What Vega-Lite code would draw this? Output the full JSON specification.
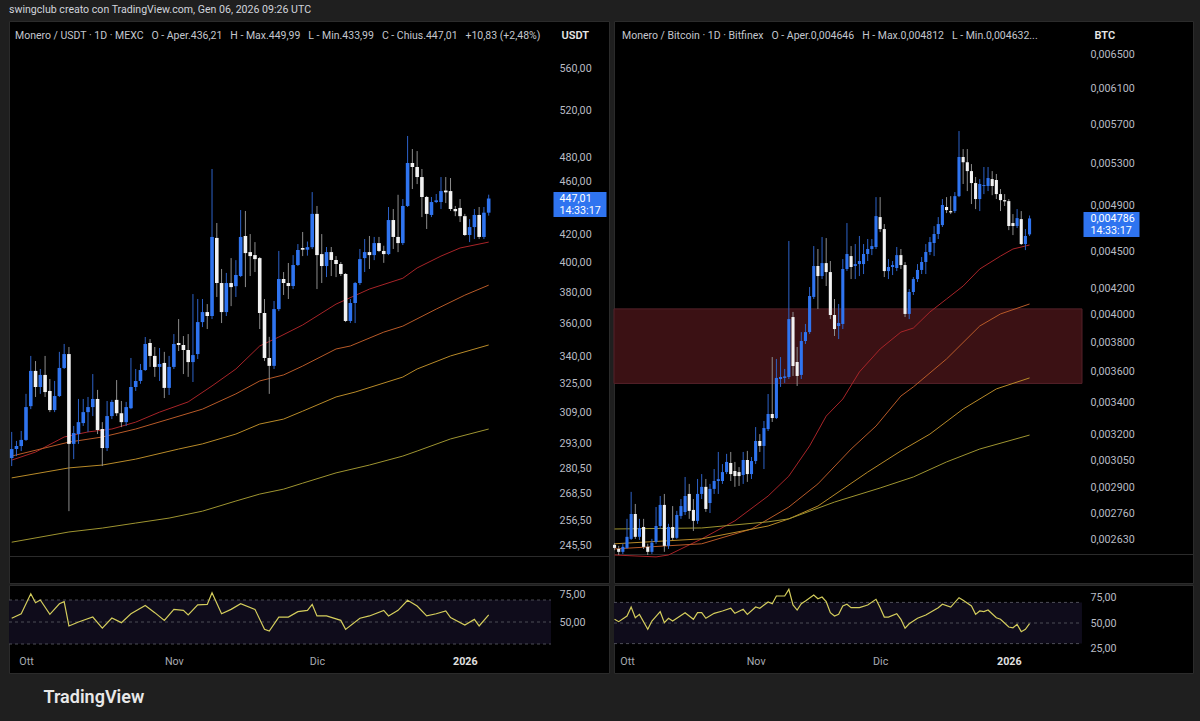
{
"$schema": "https://vega.github.io/schema/vega-lite/v6.json",
"background": "#1f1f1f",
"padding": {"left": 8, "right": 8, "top": 4, "bottom": 16},
"title": {"text": "swingclub creato con TradingView.com, Gen 06, 2026 09:26 UTC", "anchor": "start", "frame": "group", "color": "#d1d4dc", "fontSize": 10.6, "fontWeight": "normal", "offset": 5},
"config": {"font": "Roboto", "view": {"stroke": "#2b2b2b", "fill": "#000000"}},
"datasets": {
"lc": [
{"d":"2025-09-28","o":285.5,"h":298.7,"l":281.6,"c":290.0},
{"d":"2025-09-29","o":290.0,"h":294.1,"l":286.5,"c":291.5},
{"d":"2025-09-30","o":291.5,"h":299.2,"l":289.0,"c":294.6},
{"d":"2025-10-01","o":294.6,"h":319.0,"l":294.1,"c":311.8},
{"d":"2025-10-02","o":312.3,"h":340.6,"l":310.7,"c":331.9},
{"d":"2025-10-03","o":331.9,"h":337.6,"l":317.3,"c":322.8},
{"d":"2025-10-04","o":322.8,"h":333.0,"l":319.0,"c":329.6},
{"d":"2025-10-05","o":329.6,"h":340.6,"l":317.3,"c":320.0},
{"d":"2025-10-06","o":320.6,"h":327.3,"l":309.1,"c":310.2},
{"d":"2025-10-07","o":310.2,"h":326.2,"l":309.1,"c":317.8},
{"d":"2025-10-08","o":317.8,"h":343.0,"l":317.3,"c":333.6},
{"d":"2025-10-09","o":333.6,"h":347.7,"l":333.0,"c":341.7},
{"d":"2025-10-10","o":341.7,"h":345.9,"l":260.5,"c":292.6},
{"d":"2025-10-11","o":292.6,"h":301.8,"l":285.0,"c":298.1},
{"d":"2025-10-12","o":297.6,"h":316.2,"l":292.6,"c":303.8},
{"d":"2025-10-13","o":303.3,"h":316.2,"l":301.8,"c":309.1},
{"d":"2025-10-14","o":309.1,"h":317.3,"l":298.7,"c":311.8},
{"d":"2025-10-15","o":311.8,"h":330.1,"l":307.0,"c":316.2},
{"d":"2025-10-16","o":316.2,"h":321.2,"l":297.6,"c":299.7},
{"d":"2025-10-17","o":300.2,"h":303.8,"l":281.6,"c":290.5},
{"d":"2025-10-18","o":290.5,"h":315.1,"l":289.0,"c":307.0},
{"d":"2025-10-19","o":307.0,"h":315.7,"l":305.4,"c":314.6},
{"d":"2025-10-20","o":315.7,"h":326.7,"l":307.0,"c":308.5},
{"d":"2025-10-21","o":308.5,"h":315.1,"l":301.2,"c":303.8},
{"d":"2025-10-22","o":303.8,"h":314.6,"l":301.8,"c":311.8},
{"d":"2025-10-23","o":311.2,"h":339.4,"l":310.7,"c":322.8},
{"d":"2025-10-24","o":322.8,"h":333.0,"l":320.6,"c":326.2},
{"d":"2025-10-25","o":326.2,"h":335.9,"l":324.6,"c":332.4},
{"d":"2025-10-26","o":332.4,"h":351.9,"l":331.9,"c":347.7},
{"d":"2025-10-27","o":348.3,"h":350.7,"l":334.2,"c":340.6},
{"d":"2025-10-28","o":340.6,"h":345.9,"l":328.5,"c":334.2},
{"d":"2025-10-29","o":334.2,"h":345.3,"l":326.2,"c":335.9},
{"d":"2025-10-30","o":336.5,"h":343.0,"l":316.7,"c":322.3},
{"d":"2025-10-31","o":322.3,"h":340.6,"l":318.4,"c":334.2},
{"d":"2025-11-01","o":334.2,"h":353.7,"l":333.0,"c":347.7},
{"d":"2025-11-02","o":348.3,"h":363.0,"l":343.5,"c":347.1},
{"d":"2025-11-03","o":347.1,"h":352.5,"l":330.1,"c":344.1},
{"d":"2025-11-04","o":344.1,"h":353.7,"l":328.5,"c":337.0},
{"d":"2025-11-05","o":337.0,"h":379.0,"l":325.6,"c":341.1},
{"d":"2025-11-06","o":341.7,"h":375.8,"l":338.8,"c":361.1},
{"d":"2025-11-07","o":361.1,"h":375.8,"l":358.0,"c":367.4},
{"d":"2025-11-08","o":367.4,"h":372.5,"l":356.8,"c":364.9},
{"d":"2025-11-09","o":364.9,"h":470.4,"l":363.0,"c":418.3},
{"d":"2025-11-10","o":417.6,"h":428.5,"l":377.1,"c":386.3},
{"d":"2025-11-11","o":386.3,"h":395.8,"l":360.5,"c":367.4},
{"d":"2025-11-12","o":367.4,"h":393.1,"l":364.9,"c":386.3},
{"d":"2025-11-13","o":386.3,"h":403.3,"l":371.2,"c":383.6},
{"d":"2025-11-14","o":384.2,"h":401.9,"l":377.1,"c":391.7},
{"d":"2025-11-15","o":391.0,"h":438.2,"l":390.3,"c":418.3},
{"d":"2025-11-16","o":419.0,"h":437.5,"l":383.6,"c":406.8},
{"d":"2025-11-17","o":407.5,"h":420.4,"l":391.0,"c":404.7},
{"d":"2025-11-18","o":405.4,"h":414.6,"l":393.7,"c":402.6},
{"d":"2025-11-19","o":403.3,"h":404.0,"l":356.8,"c":366.8},
{"d":"2025-11-20","o":366.8,"h":375.8,"l":337.6,"c":339.4},
{"d":"2025-11-21","o":339.4,"h":352.0,"l":319.0,"c":334.8},
{"d":"2025-11-22","o":334.8,"h":374.5,"l":333.0,"c":369.3},
{"d":"2025-11-23","o":369.3,"h":408.3,"l":368.0,"c":389.0},
{"d":"2025-11-24","o":389.0,"h":393.7,"l":378.4,"c":386.3},
{"d":"2025-11-25","o":386.3,"h":399.9,"l":375.8,"c":384.3},
{"d":"2025-11-26","o":384.3,"h":405.4,"l":382.3,"c":398.5},
{"d":"2025-11-27","o":398.5,"h":413.2,"l":397.8,"c":409.0},
{"d":"2025-11-28","o":410.4,"h":421.9,"l":404.7,"c":409.2},
{"d":"2025-11-29","o":409.2,"h":415.0,"l":405.0,"c":411.0},
{"d":"2025-11-30","o":411.0,"h":452.0,"l":409.7,"c":435.3},
{"d":"2025-12-01","o":435.3,"h":441.3,"l":382.3,"c":405.4},
{"d":"2025-12-02","o":406.1,"h":420.4,"l":386.3,"c":397.8},
{"d":"2025-12-03","o":397.8,"h":411.1,"l":390.3,"c":407.5},
{"d":"2025-12-04","o":407.5,"h":411.1,"l":391.0,"c":402.0},
{"d":"2025-12-05","o":402.0,"h":404.7,"l":390.3,"c":399.2},
{"d":"2025-12-06","o":399.2,"h":400.6,"l":391.0,"c":392.4},
{"d":"2025-12-07","o":392.4,"h":393.0,"l":361.1,"c":361.8},
{"d":"2025-12-08","o":361.8,"h":375.8,"l":360.5,"c":373.2},
{"d":"2025-12-09","o":373.2,"h":387.0,"l":360.5,"c":386.3},
{"d":"2025-12-10","o":386.3,"h":409.7,"l":385.0,"c":402.6},
{"d":"2025-12-11","o":403.3,"h":416.8,"l":393.7,"c":407.5},
{"d":"2025-12-12","o":407.5,"h":419.0,"l":395.8,"c":405.4},
{"d":"2025-12-13","o":405.4,"h":418.3,"l":401.9,"c":413.9},
{"d":"2025-12-14","o":413.9,"h":418.3,"l":407.5,"c":408.3},
{"d":"2025-12-15","o":408.3,"h":412.0,"l":400.0,"c":406.1},
{"d":"2025-12-16","o":406.1,"h":440.5,"l":405.4,"c":430.7},
{"d":"2025-12-17","o":430.7,"h":439.0,"l":409.7,"c":418.3},
{"d":"2025-12-18","o":418.3,"h":449.9,"l":407.5,"c":413.9},
{"d":"2025-12-19","o":413.9,"h":446.6,"l":412.5,"c":441.3},
{"d":"2025-12-20","o":441.3,"h":498.0,"l":440.5,"c":475.3},
{"d":"2025-12-21","o":475.3,"h":486.9,"l":454.4,"c":472.0},
{"d":"2025-12-22","o":472.0,"h":485.2,"l":458.3,"c":463.9},
{"d":"2025-12-23","o":463.9,"h":470.4,"l":432.9,"c":448.2},
{"d":"2025-12-24","o":448.2,"h":449.0,"l":424.1,"c":435.3},
{"d":"2025-12-25","o":434.5,"h":448.2,"l":432.9,"c":444.3},
{"d":"2025-12-26","o":444.3,"h":450.5,"l":443.5,"c":445.6},
{"d":"2025-12-27","o":444.3,"h":463.9,"l":439.0,"c":452.8},
{"d":"2025-12-28","o":453.2,"h":463.9,"l":443.5,"c":451.8},
{"d":"2025-12-29","o":452.8,"h":463.1,"l":437.5,"c":439.0},
{"d":"2025-12-30","o":439.0,"h":441.3,"l":433.6,"c":437.3},
{"d":"2025-12-31","o":439.8,"h":446.6,"l":429.2,"c":433.6},
{"d":"2026-01-01","o":433.6,"h":435.3,"l":419.0,"c":419.7},
{"d":"2026-01-02","o":419.7,"h":431.4,"l":414.6,"c":425.5},
{"d":"2026-01-03","o":425.5,"h":439.0,"l":416.8,"c":434.5},
{"d":"2026-01-04","o":434.5,"h":440.5,"l":416.8,"c":418.3},
{"d":"2026-01-05","o":418.3,"h":440.5,"l":416.8,"c":436.2},
{"d":"2026-01-06","o":436.21,"h":449.99,"l":433.99,"c":447.01}
],
"lm": [
{"d":"2025-09-28","s":"e20","v":284.5},{"d":"2025-10-03","s":"e20","v":288.5},{"d":"2025-10-09","s":"e20","v":296.1},{"d":"2025-10-14","s":"e20","v":298.7},{"d":"2025-10-19","s":"e20","v":300.2},{"d":"2025-10-24","s":"e20","v":303.8},{"d":"2025-10-29","s":"e20","v":309.1},{"d":"2025-11-04","s":"e20","v":314.6},{"d":"2025-11-09","s":"e20","v":323.4},{"d":"2025-11-14","s":"e20","v":333.0},{"d":"2025-11-19","s":"e20","v":346.5},{"d":"2025-11-23","s":"e20","v":351.9},{"d":"2025-11-28","s":"e20","v":359.3},{"d":"2025-12-05","s":"e20","v":372.5},{"d":"2025-12-12","s":"e20","v":382.3},{"d":"2025-12-19","s":"e20","v":389.5},{"d":"2025-12-22","s":"e20","v":396.5},{"d":"2025-12-27","s":"e20","v":404.7},{"d":"2025-12-31","s":"e20","v":410.4},{"d":"2026-01-06","s":"e20","v":414.6},
{"d":"2025-09-28","s":"e50","v":286.5},{"d":"2025-10-10","s":"e50","v":293.5},{"d":"2025-10-17","s":"e50","v":296.1},{"d":"2025-10-24","s":"e50","v":300.2},{"d":"2025-10-31","s":"e50","v":305.4},{"d":"2025-11-07","s":"e50","v":310.7},{"d":"2025-11-14","s":"e50","v":319.0},{"d":"2025-11-19","s":"e50","v":326.2},{"d":"2025-11-24","s":"e50","v":329.6},{"d":"2025-11-28","s":"e50","v":334.7},{"d":"2025-12-05","s":"e50","v":344.7},{"d":"2025-12-08","s":"e50","v":346.5},{"d":"2025-12-15","s":"e50","v":354.9},{"d":"2025-12-19","s":"e50","v":358.6},{"d":"2025-12-26","s":"e50","v":369.3},{"d":"2026-01-01","s":"e50","v":378.3},{"d":"2026-01-06","s":"e50","v":384.9},
{"d":"2025-09-28","s":"e100","v":275.9},{"d":"2025-10-10","s":"e100","v":280.7},{"d":"2025-10-17","s":"e100","v":282.1},{"d":"2025-10-24","s":"e100","v":285.0},{"d":"2025-11-02","s":"e100","v":290.0},{"d":"2025-11-07","s":"e100","v":292.6},{"d":"2025-11-14","s":"e100","v":297.6},{"d":"2025-11-19","s":"e100","v":302.8},{"d":"2025-11-24","s":"e100","v":305.4},{"d":"2025-11-28","s":"e100","v":309.6},{"d":"2025-12-05","s":"e100","v":317.3},{"d":"2025-12-09","s":"e100","v":320.0},{"d":"2025-12-19","s":"e100","v":328.4},{"d":"2025-12-22","s":"e100","v":333.0},{"d":"2025-12-29","s":"e100","v":340.6},{"d":"2026-01-06","s":"e100","v":347.1},
{"d":"2025-09-28","s":"e200","v":246.9},{"d":"2025-10-10","s":"e200","v":251.3},{"d":"2025-10-17","s":"e200","v":253.0},{"d":"2025-10-24","s":"e200","v":255.2},{"d":"2025-10-31","s":"e200","v":257.4},{"d":"2025-11-07","s":"e200","v":260.5},{"d":"2025-11-14","s":"e200","v":265.1},{"d":"2025-11-19","s":"e200","v":268.3},{"d":"2025-11-24","s":"e200","v":270.6},{"d":"2025-11-28","s":"e200","v":273.4},{"d":"2025-12-05","s":"e200","v":278.3},{"d":"2025-12-12","s":"e200","v":282.1},{"d":"2025-12-19","s":"e200","v":286.5},{"d":"2025-12-22","s":"e200","v":289.0},{"d":"2025-12-29","s":"e200","v":295.1},{"d":"2026-01-06","s":"e200","v":300.2}
],
"lr": [
{"d":"2025-09-28","v":53.4},{"d":"2025-09-30","v":57.5},{"d":"2025-10-02","v":75.7},{"d":"2025-10-03","v":67.5},{"d":"2025-10-04","v":70.0},{"d":"2025-10-06","v":57.0},{"d":"2025-10-08","v":66.6},{"d":"2025-10-09","v":68.5},{"d":"2025-10-10","v":46.4},{"d":"2025-10-12","v":50.0},{"d":"2025-10-15","v":54.5},{"d":"2025-10-17","v":44.5},{"d":"2025-10-19","v":53.6},{"d":"2025-10-21","v":49.4},{"d":"2025-10-23","v":57.5},{"d":"2025-10-26","v":65.0},{"d":"2025-10-28","v":58.5},{"d":"2025-10-30","v":51.5},{"d":"2025-11-01","v":61.5},{"d":"2025-11-03","v":60.6},{"d":"2025-11-04","v":56.4},{"d":"2025-11-06","v":65.5},{"d":"2025-11-08","v":66.0},{"d":"2025-11-09","v":76.6},{"d":"2025-11-11","v":57.5},{"d":"2025-11-13","v":61.5},{"d":"2025-11-15","v":66.6},{"d":"2025-11-18","v":61.5},{"d":"2025-11-20","v":43.3},{"d":"2025-11-21","v":41.8},{"d":"2025-11-23","v":54.5},{"d":"2025-11-25","v":54.5},{"d":"2025-11-27","v":59.4},{"d":"2025-11-29","v":60.6},{"d":"2025-11-30","v":66.0},{"d":"2025-12-01","v":55.5},{"d":"2025-12-03","v":55.5},{"d":"2025-12-06","v":51.5},{"d":"2025-12-07","v":43.3},{"d":"2025-12-10","v":53.4},{"d":"2025-12-12","v":55.5},{"d":"2025-12-15","v":60.6},{"d":"2025-12-16","v":55.5},{"d":"2025-12-18","v":60.6},{"d":"2025-12-20","v":69.7},{"d":"2025-12-22","v":64.5},{"d":"2025-12-24","v":55.5},{"d":"2025-12-26","v":57.5},{"d":"2025-12-28","v":60.0},{"d":"2025-12-29","v":54.0},{"d":"2026-01-01","v":47.3},{"d":"2026-01-03","v":52.4},{"d":"2026-01-04","v":46.4},{"d":"2026-01-06","v":56.4}
],
"rc": [
{"d":"2025-09-28","o":0.002606,"h":0.002615,"l":0.00258,"c":0.002591},
{"d":"2025-09-29","o":0.002586,"h":0.002601,"l":0.002557,"c":0.002572},
{"d":"2025-09-30","o":0.002572,"h":0.002611,"l":0.002562,"c":0.002596},
{"d":"2025-10-01","o":0.002591,"h":0.002735,"l":0.002586,"c":0.002645},
{"d":"2025-10-02","o":0.002635,"h":0.002876,"l":0.00263,"c":0.00276},
{"d":"2025-10-03","o":0.00276,"h":0.002812,"l":0.002635,"c":0.002645},
{"d":"2025-10-04","o":0.002645,"h":0.002735,"l":0.00263,"c":0.002689},
{"d":"2025-10-05","o":0.002694,"h":0.002735,"l":0.002586,"c":0.002596},
{"d":"2025-10-06","o":0.002596,"h":0.002611,"l":0.002557,"c":0.002572},
{"d":"2025-10-07","o":0.002572,"h":0.002635,"l":0.002562,"c":0.002616},
{"d":"2025-10-08","o":0.00262,"h":0.002796,"l":0.002611,"c":0.002699},
{"d":"2025-10-09","o":0.002699,"h":0.002854,"l":0.002684,"c":0.002807},
{"d":"2025-10-10","o":0.002807,"h":0.002865,"l":0.002572,"c":0.002601},
{"d":"2025-10-11","o":0.002601,"h":0.00271,"l":0.002586,"c":0.002694},
{"d":"2025-10-12","o":0.002694,"h":0.002801,"l":0.00263,"c":0.00264},
{"d":"2025-10-13","o":0.00264,"h":0.002776,"l":0.002635,"c":0.002755},
{"d":"2025-10-14","o":0.00275,"h":0.002838,"l":0.002735,"c":0.002801},
{"d":"2025-10-15","o":0.00277,"h":0.002957,"l":0.002755,"c":0.002854},
{"d":"2025-10-16","o":0.002865,"h":0.002919,"l":0.002735,"c":0.002776},
{"d":"2025-10-17","o":0.002781,"h":0.002838,"l":0.002674,"c":0.002725},
{"d":"2025-10-18","o":0.002725,"h":0.002946,"l":0.00271,"c":0.002865},
{"d":"2025-10-19","o":0.002865,"h":0.002973,"l":0.002838,"c":0.002903},
{"d":"2025-10-20","o":0.002903,"h":0.002946,"l":0.002771,"c":0.002786},
{"d":"2025-10-21","o":0.002817,"h":0.002919,"l":0.002765,"c":0.002892},
{"d":"2025-10-22","o":0.002892,"h":0.003001,"l":0.002865,"c":0.002935},
{"d":"2025-10-23","o":0.002935,"h":0.003098,"l":0.002865,"c":0.002945},
{"d":"2025-10-24","o":0.002935,"h":0.003029,"l":0.002919,"c":0.002984},
{"d":"2025-10-25","o":0.002984,"h":0.003087,"l":0.002973,"c":0.003041},
{"d":"2025-10-26","o":0.003035,"h":0.003098,"l":0.002935,"c":0.002973},
{"d":"2025-10-27","o":0.00299,"h":0.003041,"l":0.002903,"c":0.002962},
{"d":"2025-10-28","o":0.002984,"h":0.003012,"l":0.002908,"c":0.002962},
{"d":"2025-10-29","o":0.002968,"h":0.003098,"l":0.002919,"c":0.003052},
{"d":"2025-10-30","o":0.003052,"h":0.003104,"l":0.00293,"c":0.002973},
{"d":"2025-10-31","o":0.002973,"h":0.003069,"l":0.002946,"c":0.003046},
{"d":"2025-11-01","o":0.003046,"h":0.003245,"l":0.003029,"c":0.003162},
{"d":"2025-11-02","o":0.003162,"h":0.003203,"l":0.003098,"c":0.003133},
{"d":"2025-11-03","o":0.003133,"h":0.003282,"l":0.003001,"c":0.003239},
{"d":"2025-11-04","o":0.003233,"h":0.003451,"l":0.003221,"c":0.003325},
{"d":"2025-11-05","o":0.003325,"h":0.003697,"l":0.003276,"c":0.0033},
{"d":"2025-11-06","o":0.0033,"h":0.003684,"l":0.003294,"c":0.003556},
{"d":"2025-11-07","o":0.003549,"h":0.003697,"l":0.003497,"c":0.003562},
{"d":"2025-11-08","o":0.003556,"h":0.003616,"l":0.003523,"c":0.003566},
{"d":"2025-11-09","o":0.003562,"h":0.004589,"l":0.003549,"c":0.003968},
{"d":"2025-11-10","o":0.003983,"h":0.004021,"l":0.003569,"c":0.003636},
{"d":"2025-11-11","o":0.003663,"h":0.003767,"l":0.003503,"c":0.003569},
{"d":"2025-11-12","o":0.003576,"h":0.003873,"l":0.003549,"c":0.003809},
{"d":"2025-11-13","o":0.003809,"h":0.003932,"l":0.003788,"c":0.003873},
{"d":"2025-11-14","o":0.003873,"h":0.004212,"l":0.003859,"c":0.004142},
{"d":"2025-11-15","o":0.004135,"h":0.004546,"l":0.004119,"c":0.00438},
{"d":"2025-11-16","o":0.00438,"h":0.004521,"l":0.004043,"c":0.004299},
{"d":"2025-11-17","o":0.004299,"h":0.004623,"l":0.004275,"c":0.004404},
{"d":"2025-11-18","o":0.004404,"h":0.004614,"l":0.00422,"c":0.004331},
{"d":"2025-11-19","o":0.004331,"h":0.004421,"l":0.003968,"c":0.003998},
{"d":"2025-11-20","o":0.003998,"h":0.004119,"l":0.003845,"c":0.003895},
{"d":"2025-11-21","o":0.003917,"h":0.004081,"l":0.003823,"c":0.003939},
{"d":"2025-11-22","o":0.003932,"h":0.004437,"l":0.003895,"c":0.004356},
{"d":"2025-11-23","o":0.004356,"h":0.004745,"l":0.00434,"c":0.004479},
{"d":"2025-11-24","o":0.004462,"h":0.004546,"l":0.004275,"c":0.004372},
{"d":"2025-11-25","o":0.00438,"h":0.004563,"l":0.004275,"c":0.004396},
{"d":"2025-11-26","o":0.004396,"h":0.004632,"l":0.004299,"c":0.004421},
{"d":"2025-11-27","o":0.004396,"h":0.004563,"l":0.004315,"c":0.004479},
{"d":"2025-11-28","o":0.004479,"h":0.004606,"l":0.004421,"c":0.004521},
{"d":"2025-11-29","o":0.004521,"h":0.004606,"l":0.00447,"c":0.004546},
{"d":"2025-11-30","o":0.004538,"h":0.00498,"l":0.004521,"c":0.004807},
{"d":"2025-12-01","o":0.004798,"h":0.00498,"l":0.004666,"c":0.004692},
{"d":"2025-12-02","o":0.004692,"h":0.004736,"l":0.004291,"c":0.004339},
{"d":"2025-12-03","o":0.004339,"h":0.004437,"l":0.004275,"c":0.004372},
{"d":"2025-12-04","o":0.004372,"h":0.004421,"l":0.004307,"c":0.004388},
{"d":"2025-12-05","o":0.004364,"h":0.004538,"l":0.004339,"c":0.00447},
{"d":"2025-12-06","o":0.00447,"h":0.004521,"l":0.004356,"c":0.004388},
{"d":"2025-12-07","o":0.004388,"h":0.004413,"l":0.003983,"c":0.004006},
{"d":"2025-12-08","o":0.004006,"h":0.004196,"l":0.003968,"c":0.004173},
{"d":"2025-12-09","o":0.004173,"h":0.004291,"l":0.00415,"c":0.004275},
{"d":"2025-12-10","o":0.004275,"h":0.004396,"l":0.004252,"c":0.004348},
{"d":"2025-12-11","o":0.004348,"h":0.004454,"l":0.004315,"c":0.004413},
{"d":"2025-12-12","o":0.004413,"h":0.004563,"l":0.004315,"c":0.004496},
{"d":"2025-12-13","o":0.004496,"h":0.004623,"l":0.00447,"c":0.00458},
{"d":"2025-12-14","o":0.004572,"h":0.004718,"l":0.004462,"c":0.004649},
{"d":"2025-12-15","o":0.004649,"h":0.004798,"l":0.004606,"c":0.004736},
{"d":"2025-12-16","o":0.004727,"h":0.004962,"l":0.00471,"c":0.004907},
{"d":"2025-12-17","o":0.004889,"h":0.00498,"l":0.004834,"c":0.004861},
{"d":"2025-12-18","o":0.004852,"h":0.004989,"l":0.004825,"c":0.00484},
{"d":"2025-12-19","o":0.004852,"h":0.005027,"l":0.004834,"c":0.004989},
{"d":"2025-12-20","o":0.004989,"h":0.005632,"l":0.00498,"c":0.005366},
{"d":"2025-12-21","o":0.005366,"h":0.005446,"l":0.005103,"c":0.005314},
{"d":"2025-12-22","o":0.005314,"h":0.005446,"l":0.005036,"c":0.005227},
{"d":"2025-12-23","o":0.005227,"h":0.005296,"l":0.004916,"c":0.005112},
{"d":"2025-12-24","o":0.005112,"h":0.00517,"l":0.00487,"c":0.004962},
{"d":"2025-12-25","o":0.004962,"h":0.00515,"l":0.004852,"c":0.005103},
{"d":"2025-12-26","o":0.005084,"h":0.005267,"l":0.005008,"c":0.005093},
{"d":"2025-12-27","o":0.005084,"h":0.005267,"l":0.005036,"c":0.00516},
{"d":"2025-12-28","o":0.00515,"h":0.005227,"l":0.004998,"c":0.005084},
{"d":"2025-12-29","o":0.005141,"h":0.005199,"l":0.004962,"c":0.005008},
{"d":"2025-12-30","o":0.005008,"h":0.005055,"l":0.004852,"c":0.004952},
{"d":"2025-12-31","o":0.004952,"h":0.005008,"l":0.004898,"c":0.00494},
{"d":"2026-01-01","o":0.004943,"h":0.004962,"l":0.004683,"c":0.004719},
{"d":"2026-01-02","o":0.004745,"h":0.004825,"l":0.00464,"c":0.004719},
{"d":"2026-01-03","o":0.004719,"h":0.00487,"l":0.004701,"c":0.004789},
{"d":"2026-01-04","o":0.00478,"h":0.004852,"l":0.004555,"c":0.004563},
{"d":"2026-01-05","o":0.004563,"h":0.004692,"l":0.004512,"c":0.004632},
{"d":"2026-01-06","o":0.004646,"h":0.004812,"l":0.004632,"c":0.004786}
],
"rm": [
{"d":"2025-09-28","s":"e20","v":0.002557},{"d":"2025-10-08","s":"e20","v":0.002548},{"d":"2025-10-11","s":"e20","v":0.002557},{"d":"2025-10-19","s":"e20","v":0.002635},{"d":"2025-10-27","s":"e20","v":0.002725},{"d":"2025-11-04","s":"e20","v":0.002854},{"d":"2025-11-09","s":"e20","v":0.002962},{"d":"2025-11-14","s":"e20","v":0.003133},{"d":"2025-11-18","s":"e20","v":0.003312},{"d":"2025-11-22","s":"e20","v":0.003419},{"d":"2025-11-26","s":"e20","v":0.003596},{"d":"2025-12-01","s":"e20","v":0.003753},{"d":"2025-12-06","s":"e20","v":0.003873},{"d":"2025-12-09","s":"e20","v":0.003902},{"d":"2025-12-13","s":"e20","v":0.004021},{"d":"2025-12-17","s":"e20","v":0.004119},{"d":"2025-12-21","s":"e20","v":0.00422},{"d":"2025-12-25","s":"e20","v":0.004356},{"d":"2025-12-30","s":"e20","v":0.004462},{"d":"2026-01-02","s":"e20","v":0.004521},{"d":"2026-01-06","s":"e20","v":0.004555},
{"d":"2025-09-28","s":"e50","v":0.002586},{"d":"2025-10-19","s":"e50","v":0.002611},{"d":"2025-10-31","s":"e50","v":0.002684},{"d":"2025-11-09","s":"e50","v":0.002796},{"d":"2025-11-16","s":"e50","v":0.002919},{"d":"2025-11-24","s":"e50","v":0.003115},{"d":"2025-11-30","s":"e50","v":0.003251},{"d":"2025-12-06","s":"e50","v":0.003438},{"d":"2025-12-09","s":"e50","v":0.003497},{"d":"2025-12-17","s":"e50","v":0.003684},{"d":"2025-12-25","s":"e50","v":0.003917},{"d":"2025-12-30","s":"e50","v":0.004006},{"d":"2026-01-06","s":"e50","v":0.004081},
{"d":"2025-09-28","s":"e100","v":0.002611},{"d":"2025-10-19","s":"e100","v":0.002635},{"d":"2025-11-04","s":"e100","v":0.002699},{"d":"2025-11-09","s":"e100","v":0.002735},{"d":"2025-11-16","s":"e100","v":0.002801},{"d":"2025-11-28","s":"e100","v":0.002984},{"d":"2025-12-06","s":"e100","v":0.003104},{"d":"2025-12-13","s":"e100","v":0.003203},{"d":"2025-12-21","s":"e100","v":0.003356},{"d":"2025-12-29","s":"e100","v":0.003484},{"d":"2026-01-06","s":"e100","v":0.003556},
{"d":"2025-09-28","s":"e200","v":0.002684},{"d":"2025-10-19","s":"e200","v":0.002689},{"d":"2025-11-04","s":"e200","v":0.00272},{"d":"2025-11-09","s":"e200","v":0.002735},{"d":"2025-11-20","s":"e200","v":0.002822},{"d":"2025-12-01","s":"e200","v":0.002897},{"d":"2025-12-09","s":"e200","v":0.002957},{"d":"2025-12-17","s":"e200","v":0.003041},{"d":"2025-12-25","s":"e200","v":0.003115},{"d":"2026-01-06","s":"e200","v":0.003197}
],
"rr": [
{"d":"2025-09-28","v":53.6},{"d":"2025-09-29","v":51.3},{"d":"2025-10-01","v":56.8},{"d":"2025-10-02","v":65.5},{"d":"2025-10-03","v":55.1},{"d":"2025-10-04","v":58.4},{"d":"2025-10-06","v":43.9},{"d":"2025-10-07","v":51.9},{"d":"2025-10-09","v":61.0},{"d":"2025-10-10","v":50.3},{"d":"2025-10-11","v":54.6},{"d":"2025-10-12","v":51.9},{"d":"2025-10-15","v":60.0},{"d":"2025-10-17","v":53.6},{"d":"2025-10-18","v":60.0},{"d":"2025-10-19","v":60.0},{"d":"2025-10-20","v":54.6},{"d":"2025-10-22","v":59.4},{"d":"2025-10-24","v":61.7},{"d":"2025-10-26","v":64.3},{"d":"2025-10-27","v":59.4},{"d":"2025-10-29","v":63.3},{"d":"2025-10-30","v":58.4},{"d":"2025-11-01","v":65.5},{"d":"2025-11-02","v":64.3},{"d":"2025-11-04","v":70.4},{"d":"2025-11-05","v":68.7},{"d":"2025-11-06","v":76.2},{"d":"2025-11-08","v":76.2},{"d":"2025-11-09","v":82.7},{"d":"2025-11-10","v":67.5},{"d":"2025-11-11","v":62.6},{"d":"2025-11-12","v":68.7},{"d":"2025-11-13","v":71.4},{"d":"2025-11-15","v":77.2},{"d":"2025-11-16","v":73.6},{"d":"2025-11-17","v":75.2},{"d":"2025-11-18","v":70.7},{"d":"2025-11-19","v":60.0},{"d":"2025-11-20","v":56.8},{"d":"2025-11-21","v":58.4},{"d":"2025-11-22","v":66.5},{"d":"2025-11-23","v":68.2},{"d":"2025-11-24","v":64.9},{"d":"2025-11-26","v":64.9},{"d":"2025-11-28","v":67.5},{"d":"2025-11-30","v":73.0},{"d":"2025-12-01","v":64.9},{"d":"2025-12-02","v":55.8},{"d":"2025-12-03","v":55.8},{"d":"2025-12-05","v":59.0},{"d":"2025-12-06","v":53.6},{"d":"2025-12-07","v":44.9},{"d":"2025-12-08","v":49.3},{"d":"2025-12-10","v":54.6},{"d":"2025-12-12","v":57.8},{"d":"2025-12-15","v":64.9},{"d":"2025-12-16","v":68.2},{"d":"2025-12-18","v":65.5},{"d":"2025-12-20","v":74.6},{"d":"2025-12-21","v":72.0},{"d":"2025-12-23","v":66.5},{"d":"2025-12-24","v":58.4},{"d":"2025-12-25","v":61.7},{"d":"2025-12-26","v":61.0},{"d":"2025-12-27","v":62.6},{"d":"2025-12-29","v":55.1},{"d":"2025-12-30","v":53.6},{"d":"2026-01-01","v":46.1},{"d":"2026-01-02","v":45.4},{"d":"2026-01-03","v":48.7},{"d":"2026-01-04","v":41.6},{"d":"2026-01-05","v":43.9},{"d":"2026-01-06","v":49.3}
]
},
"spacing": 0,
"vconcat": [
{"spacing": 5, "bounds": "flush", "hconcat": [
 {"width": 600, "height": 562,
  "title": {"text": "Monero / USDT · 1D · MEXC\u2002 O - Aper.436,21\u2002 H - Max.449,99\u2002 L - Min.433,99\u2002 C - Chius.447,01\u2002 +10,83 (+2,48%)", "anchor": "start", "frame": "group", "orient": "top", "offset": -20, "dx": 6, "color": "#c3c6cd", "fontSize": 10.5, "fontWeight": "normal"},
  "layer": [
   {"data": {"name": "lm"}, "mark": {"type": "line", "strokeWidth": 1, "clip": true},
    "encoding": {
     "x": {"field": "d", "type": "temporal", "scale": {"type": "utc", "domain": [1758968875000, 1769836800000], "nice": false, "padding": 0},
       "axis": {"orient": "bottom", "offset": -27, "labels": false, "ticks": false, "domain": true, "domainColor": "#2b2b2b", "grid": false, "title": null}},
     "y": {"field": "v", "type": "quantitative", "scale": {"type": "log", "domain": [230.1, 607.4], "nice": false, "zero": false},
       "axis": {"orient": "right", "offset": -56, "title": "USDT", "titleAngle": 0, "titleX": 8, "titleY": 14, "titleAlign": "left", "titleBaseline": "middle", "titleColor": "#e6e6e6", "titleFontSize": 11, "titleFontWeight": 600,
        "values": [245.5, 256.5, 268.5, 280.5, 293, 309, 325, 340, 360, 380, 400, 420, 447.01, 460, 480, 520, 560],
        "labelExpr": "datum.value == 447.01 ? ['447,01', '14:33:17'] : replace(format(datum.value, '.2f'), '.', ',')",
        "labelColor": {"condition": {"test": "datum.value == 447.01", "value": "#ffffff"}, "value": "#b9bcc4"},
        "labelOverlap": false, "labelBound": false, "labelFlush": false, "labelPadding": -47, "labelAlign": "left", "labelBaseline": "middle", "labelFontSize": 10.7, "labelLineHeight": 12,
        "tickOffset": 5, "labelOffset": -5,
        "domain": false, "ticks": true, "tickSize": 53, "tickColor": "#2f74f0",
        "tickOpacity": {"condition": {"test": "datum.value == 447.01", "value": 1}, "value": 0},
        "tickWidth": {"condition": {"test": "datum.value == 447.01", "value": 25}, "value": 1},
        "grid": false}},
     "color": {"field": "s", "type": "nominal", "scale": {"domain": ["e20", "e50", "e100", "e200"], "range": ["#a82428", "#b85a28", "#b88a28", "#9e9430"]}, "legend": null}
    }},
   {"data": {"name": "lc"}, "transform": [{"filter": "datum.d == '2026-01-06'"}], "mark": {"type": "rule", "color": "#22345c", "strokeWidth": 1},
    "encoding": {
     "x": {"datum": 1758968875000, "type": "temporal", "scale": {"type": "utc", "domain": [1758968875000, 1769836800000], "nice": false, "padding": 0}},
     "x2": {"datum": 1768840000000},
     "y": {"field": "c", "type": "quantitative", "scale": {"type": "log", "domain": [230.1, 607.4], "nice": false, "zero": false}}
    }},
   {"data": {"name": "lc"}, "mark": {"type": "rule", "strokeWidth": 1},
    "encoding": {
     "x": {"field": "d", "type": "temporal", "scale": {"type": "utc", "domain": [1758968875000, 1769836800000], "nice": false, "padding": 0}},
     "y": {"field": "l", "type": "quantitative", "scale": {"type": "log", "domain": [230.1, 607.4], "nice": false, "zero": false}},
     "y2": {"field": "h"},
     "color": {"condition": {"test": "datum.c >= datum.o", "value": "#2d62c8"}, "value": "#8c8c8c"}
    }},
   {"data": {"name": "lc"}, "mark": {"type": "bar", "width": 3.6},
    "encoding": {
     "x": {"field": "d", "type": "temporal", "scale": {"type": "utc", "domain": [1758968875000, 1769836800000], "nice": false, "padding": 0}},
     "y": {"field": "o", "type": "quantitative", "scale": {"type": "log", "domain": [230.1, 607.4], "nice": false, "zero": false}},
     "y2": {"field": "c"},
     "color": {"condition": {"test": "datum.c >= datum.o", "value": "#2f74f0"}, "value": "#f2f2f2"}
    }}
  ]},
 {"width": 579, "height": 562,
  "title": {"text": "Monero / Bitcoin · 1D · Bitfinex\u2002 O - Aper.0,004646\u2002 H - Max.0,004812\u2002 L - Min.0,004632...", "anchor": "start", "frame": "group", "orient": "top", "offset": -20, "dx": 8, "color": "#c3c6cd", "fontSize": 10.5, "fontWeight": "normal"},
  "layer": [
   {"data": {"values": [{}]}, "mark": {"type": "rect", "color": "#3b1114", "stroke": "#55222a", "strokeWidth": 1},
    "encoding": {
     "x": {"datum": 1759006152000, "type": "temporal", "scale": {"type": "utc", "domain": [1759006152000, 1771060507200], "nice": false, "padding": 0},
       "axis": {"orient": "bottom", "offset": -29, "labels": false, "ticks": false, "domain": true, "domainColor": "#2b2b2b", "grid": false, "title": null}},
     "x2": {"datum": 1768749564000},
     "y": {"datum": 0.00352, "type": "quantitative", "scale": {"type": "log", "domain": [0.0024271, 0.006913], "nice": false, "zero": false},
       "axis": {"orient": "right", "offset": -110, "title": "BTC", "titleAngle": 0, "titleX": 11, "titleY": 14, "titleAlign": "left", "titleBaseline": "middle", "titleColor": "#e6e6e6", "titleFontSize": 11, "titleFontWeight": 600,
        "values": [0.00263, 0.00276, 0.0029, 0.00305, 0.0032, 0.0034, 0.0036, 0.0038, 0.004, 0.0042, 0.0045, 0.004786, 0.0049, 0.0053, 0.0057, 0.0061, 0.0065],
        "labelExpr": "datum.value == 0.004786 ? ['0,004786', '14:33:17'] : replace(format(datum.value, '.6f'), '.', ',')",
        "labelColor": {"condition": {"test": "datum.value == 0.004786", "value": "#ffffff"}, "value": "#b9bcc4"},
        "labelOverlap": false, "labelBound": false, "labelFlush": false, "labelPadding": -49, "labelAlign": "left", "labelBaseline": "middle", "labelFontSize": 10.7, "labelLineHeight": 12,
        "tickOffset": 6, "labelOffset": -6,
        "domain": false, "ticks": true, "tickSize": 56, "tickColor": "#2f74f0",
        "tickOpacity": {"condition": {"test": "datum.value == 0.004786", "value": 1}, "value": 0},
        "tickWidth": {"condition": {"test": "datum.value == 0.004786", "value": 25}, "value": 1},
        "grid": false}},
     "y2": {"datum": 0.004044}
    }},
   {"data": {"name": "rc"}, "transform": [{"filter": "datum.d == '2026-01-06'"}], "mark": {"type": "rule", "color": "#22345c", "strokeWidth": 1},
    "encoding": {
     "x": {"datum": 1759006152000, "type": "temporal", "scale": {"type": "utc", "domain": [1759006152000, 1771060507200], "nice": false, "padding": 0}},
     "x2": {"datum": 1768770000000},
     "y": {"field": "c", "type": "quantitative", "scale": {"type": "log", "domain": [0.0024271, 0.006913], "nice": false, "zero": false}}
    }},
   {"data": {"name": "rm"}, "mark": {"type": "line", "strokeWidth": 1, "clip": true},
    "encoding": {
     "x": {"field": "d", "type": "temporal", "scale": {"type": "utc", "domain": [1759006152000, 1771060507200], "nice": false, "padding": 0}},
     "y": {"field": "v", "type": "quantitative", "scale": {"type": "log", "domain": [0.0024271, 0.006913], "nice": false, "zero": false}},
     "color": {"field": "s", "type": "nominal", "scale": {"domain": ["e20", "e50", "e100", "e200"], "range": ["#a82428", "#b85a28", "#b88a28", "#9e9430"]}, "legend": null}
    }},
   {"data": {"name": "rc"}, "mark": {"type": "rule", "strokeWidth": 1},
    "encoding": {
     "x": {"field": "d", "type": "temporal", "scale": {"type": "utc", "domain": [1759006152000, 1771060507200], "nice": false, "padding": 0}},
     "y": {"field": "l", "type": "quantitative", "scale": {"type": "log", "domain": [0.0024271, 0.006913], "nice": false, "zero": false}},
     "y2": {"field": "h"},
     "color": {"condition": {"test": "datum.c >= datum.o", "value": "#2d62c8"}, "value": "#8c8c8c"}
    }},
   {"data": {"name": "rc"}, "mark": {"type": "bar", "width": 3.1},
    "encoding": {
     "x": {"field": "d", "type": "temporal", "scale": {"type": "utc", "domain": [1759006152000, 1771060507200], "nice": false, "padding": 0}},
     "y": {"field": "o", "type": "quantitative", "scale": {"type": "log", "domain": [0.0024271, 0.006913], "nice": false, "zero": false}},
     "y2": {"field": "c"},
     "color": {"condition": {"test": "datum.c >= datum.o", "value": "#2f74f0"}, "value": "#f2f2f2"}
    }}
  ]}
]},
{"spacing": 5, "bounds": "flush", "hconcat": [
 {"width": 600, "height": 88,
  "layer": [
   {"data": {"values": [{}]}, "mark": {"type": "rect", "color": "#0f0c1b"},
    "encoding": {
     "x": {"datum": 1758968875000, "type": "temporal", "scale": {"type": "utc", "domain": [1758968875000, 1769836800000], "nice": false, "padding": 0},
       "axis": {"orient": "bottom", "offset": -22, "values": [1759276800000, 1761955200000, 1764547200000, 1767225600000],
        "labelExpr": "utcmonth(datum.value) == 0 ? utcFormat(datum.value, '%Y') : (utcmonth(datum.value) == 9 ? 'Ott' : (utcmonth(datum.value) == 10 ? 'Nov' : 'Dic'))",
        "labelFontWeight": {"condition": {"test": "utcmonth(datum.value) == 0", "value": "bold"}, "value": "normal"},
        "labelColor": {"condition": {"test": "utcmonth(datum.value) == 0", "value": "#e0e0e0"}, "value": "#a8abb3"},
        "labelPadding": 5, "labelFontSize": 10.7, "labelFlush": false, "labelOverlap": false, "ticks": false, "domain": false, "grid": false,
        "title": "TradingView", "titleX": 34, "titleY": 46, "titleAlign": "left", "titleBaseline": "middle", "titleFontSize": 18, "titleFontWeight": 600, "titleColor": "#e8e8e8"}},
     "x2": {"datum": 1768786233000},
     "y": {"datum": 30, "type": "quantitative", "scale": {"domain": [3.64, 83.64], "nice": false, "zero": false},
       "axis": {"orient": "right", "offset": -56, "title": null, "values": [50, 75], "labelExpr": "replace(format(datum.value, '.2f'), '.', ',')", "labelColor": "#b9bcc4", "labelPadding": 6, "labelFontSize": 10.7, "labelOverlap": false, "labelBound": false, "labelFlush": false, "ticks": false, "domain": false, "grid": false}},
     "y2": {"datum": 70}
    }},
   {"data": {"values": [{"lv": 70}, {"lv": 50}, {"lv": 30}]}, "mark": {"type": "rule", "color": "#4d4d57", "strokeDash": [3, 3], "strokeWidth": 1},
    "encoding": {
     "x": {"datum": 1758968875000, "type": "temporal", "scale": {"type": "utc", "domain": [1758968875000, 1769836800000], "nice": false, "padding": 0}},
     "x2": {"datum": 1768786233000},
     "y": {"field": "lv", "type": "quantitative", "scale": {"domain": [3.64, 83.64], "nice": false, "zero": false}}
    }},
   {"data": {"name": "lr"}, "mark": {"type": "line", "color": "#d4cd5c", "strokeWidth": 1.2},
    "encoding": {
     "x": {"field": "d", "type": "temporal", "scale": {"type": "utc", "domain": [1758968875000, 1769836800000], "nice": false, "padding": 0}},
     "y": {"field": "v", "type": "quantitative", "scale": {"domain": [3.64, 83.64], "nice": false, "zero": false}}
    }}
  ]},
 {"width": 579, "height": 88,
  "layer": [
   {"data": {"values": [{}]}, "mark": {"type": "rect", "color": "#0f0c1b"},
    "encoding": {
     "x": {"datum": 1759006152000, "type": "temporal", "scale": {"type": "utc", "domain": [1759006152000, 1771060507200], "nice": false, "padding": 0},
       "axis": {"orient": "bottom", "offset": -22, "values": [1759276800000, 1761955200000, 1764547200000, 1767225600000],
        "labelExpr": "utcmonth(datum.value) == 0 ? utcFormat(datum.value, '%Y') : (utcmonth(datum.value) == 9 ? 'Ott' : (utcmonth(datum.value) == 10 ? 'Nov' : 'Dic'))",
        "labelFontWeight": {"condition": {"test": "utcmonth(datum.value) == 0", "value": "bold"}, "value": "normal"},
        "labelColor": {"condition": {"test": "utcmonth(datum.value) == 0", "value": "#e0e0e0"}, "value": "#a8abb3"},
        "labelPadding": 5, "labelFontSize": 10.7, "labelFlush": false, "labelOverlap": false, "ticks": false, "domain": false, "grid": false, "title": null}},
     "x2": {"datum": 1768749564000},
     "y": {"datum": 30, "type": "quantitative", "scale": {"domain": [1.46, 86.9], "nice": false, "zero": false},
       "axis": {"orient": "right", "offset": -110, "title": null, "values": [25, 50, 75], "labelExpr": "replace(format(datum.value, '.2f'), '.', ',')", "labelColor": "#b9bcc4", "labelPadding": 7, "labelFontSize": 10.7, "labelOverlap": false, "labelBound": false, "labelFlush": false, "ticks": false, "domain": false, "grid": false}},
     "y2": {"datum": 70}
    }},
   {"data": {"values": [{"lv": 70}, {"lv": 50}, {"lv": 30}]}, "mark": {"type": "rule", "color": "#4d4d57", "strokeDash": [3, 3], "strokeWidth": 1},
    "encoding": {
     "x": {"datum": 1759006152000, "type": "temporal", "scale": {"type": "utc", "domain": [1759006152000, 1771060507200], "nice": false, "padding": 0}},
     "x2": {"datum": 1768749564000},
     "y": {"field": "lv", "type": "quantitative", "scale": {"domain": [1.46, 86.9], "nice": false, "zero": false}}
    }},
   {"data": {"name": "rr"}, "mark": {"type": "line", "color": "#d4cd5c", "strokeWidth": 1.2},
    "encoding": {
     "x": {"field": "d", "type": "temporal", "scale": {"type": "utc", "domain": [1759006152000, 1771060507200], "nice": false, "padding": 0}},
     "y": {"field": "v", "type": "quantitative", "scale": {"domain": [1.46, 86.9], "nice": false, "zero": false}}
    }}
  ]}
]}
]
}
